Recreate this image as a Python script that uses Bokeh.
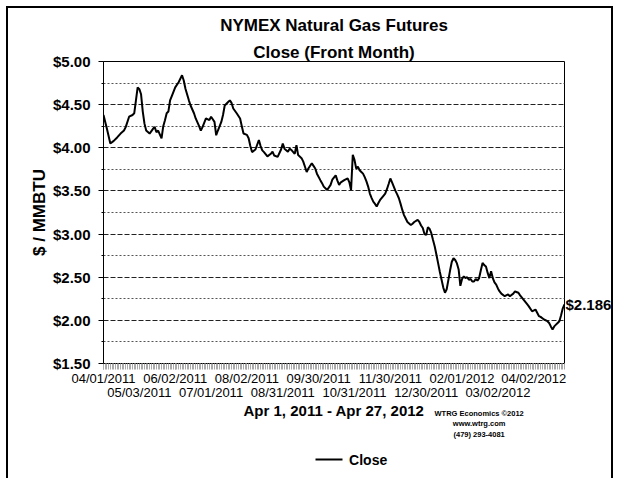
from bokeh.plotting import figure
from bokeh.models import (Range1d, LinearAxis, FixedTicker, Grid, Title, NumeralTickFormatter)
from bokeh.embed import file_html
from bokeh.resources import INLINE

# ---- data (trading-day index since 04/01/2011, front-month close $/MMBtu) ----
day_index = [0, 2, 4, 6, 8, 10, 12, 13, 15, 17, 18, 19, 20, 21, 22, 23, 24, 25, 27, 29,
             30, 31, 32, 34, 35, 36, 37, 38, 39, 40, 42, 44, 46, 47, 48, 50, 51, 53, 54, 56,
             57, 58, 60, 62, 63, 64, 65, 66, 67, 69, 70, 71, 73, 74, 75, 76, 78, 80, 81, 82,
             84, 85, 86, 87, 89, 91, 92, 93, 94, 96, 98, 99, 100, 102, 104, 105, 106, 108, 109, 110,
             112, 113, 114, 116, 117, 118, 119, 120, 122, 123, 124, 125, 127, 128, 129, 131, 133, 134, 136, 137,
             138, 139, 141, 143, 144, 145, 146, 147, 148, 149, 150, 151, 152, 153, 154, 155, 156, 157, 158, 159,
             160, 161, 162, 163, 165, 166, 167, 168, 169, 170, 171, 172, 173, 174, 175, 176, 177, 178, 180, 181,
             182, 184, 185, 186, 187, 188, 189, 190, 191, 192, 193, 194, 195, 196, 197, 198, 199, 200, 201, 202,
             203, 204, 205, 206, 207, 208, 209, 210, 211, 212, 213, 214, 215, 216, 217, 218, 219, 220, 221, 222,
             223, 224, 225, 226, 227, 228, 229, 230, 231, 232, 233, 235, 237, 238, 240, 241, 243, 244, 246, 248,
             249, 251, 253, 255, 256, 258, 260, 261, 262, 263, 264, 265, 266, 267, 268, 269, 270]
close = [4.38, 4.22, 4.05, 4.08, 4.12, 4.165, 4.20, 4.24, 4.36, 4.38, 4.40, 4.55, 4.70, 4.68, 4.62, 4.42, 4.28, 4.20, 4.165, 4.22,
         4.24, 4.18, 4.20, 4.11, 4.25, 4.32, 4.40, 4.42, 4.55, 4.60, 4.70, 4.76, 4.84, 4.78, 4.685, 4.55, 4.49, 4.40, 4.34, 4.25,
         4.20, 4.24, 4.34, 4.32, 4.36, 4.33, 4.30, 4.145, 4.20, 4.30, 4.38, 4.49, 4.53, 4.55, 4.52, 4.455, 4.40, 4.34, 4.25, 4.165,
         4.15, 4.11, 4.02, 3.95, 3.98, 4.09, 4.02, 3.97, 3.95, 3.90, 3.93, 3.955, 3.91, 3.895, 3.98, 4.05, 3.99, 3.955, 3.99, 3.975,
         3.93, 4.03, 3.915, 3.88, 3.84, 3.78, 3.72, 3.76, 3.82, 3.79, 3.76, 3.70, 3.625, 3.59, 3.55, 3.51, 3.57, 3.63, 3.68, 3.62,
         3.57, 3.60, 3.625, 3.645, 3.60, 3.51, 3.92, 3.86, 3.76, 3.78, 3.74, 3.72, 3.70, 3.66, 3.61, 3.55, 3.47, 3.42, 3.375, 3.35,
         3.32, 3.36, 3.395, 3.42, 3.47, 3.52, 3.58, 3.645, 3.60, 3.55, 3.50, 3.46, 3.415, 3.35, 3.28, 3.22, 3.18, 3.14, 3.105, 3.12,
         3.14, 3.165, 3.14, 3.10, 3.07, 3.00, 2.99, 3.08, 3.06, 3.01, 2.93, 2.856, 2.76, 2.66, 2.56, 2.47, 2.38, 2.32, 2.36, 2.47,
         2.58, 2.68, 2.72, 2.70, 2.66, 2.59, 2.40, 2.48, 2.51, 2.49, 2.50, 2.47, 2.48, 2.45, 2.45, 2.48, 2.46, 2.49, 2.58, 2.665,
         2.64, 2.625, 2.55, 2.49, 2.57, 2.49, 2.44, 2.415, 2.37, 2.335, 2.31, 2.28, 2.30, 2.28, 2.31, 2.335, 2.32, 2.29, 2.24, 2.19,
         2.165, 2.105, 2.125, 2.05, 2.04, 2.01, 1.99, 1.97, 1.93, 1.895, 1.93, 1.95, 1.97, 1.99, 2.06, 2.14, 2.186]

tick_day = [0, 21, 42, 63, 84, 105, 126, 147, 168, 189, 210, 231, 252]
tick_label = ["04/01/2011", "05/03/2011", "06/02/2011", "07/01/2011", "08/02/2011", "08/31/2011",
              "09/30/2011", "10/31/2011", "11/30/2011", "12/30/2011", "02/01/2012", "03/02/2012",
              "04/02/2012"]
y_major = [1.5, 2.0, 2.5, 3.0, 3.5, 4.0, 4.5, 5.0]
y_minor = [1.75, 2.25, 2.75, 3.25, 3.75, 4.25, 4.75]
credit_lines = ["WTRG Economics \u00a92012", "www.wtrg.com", "(479) 293-4081"]
series_name = "Close"

FONT = "Liberation Sans"

p = figure(width=607, height=472, output_backend="svg", toolbar_location=None,
           x_axis_type=None, y_axis_type=None,
           x_range=Range1d(0, 270), y_range=Range1d(1.5, 5.0),
           min_border_left=95, min_border_right=51, min_border_top=53, min_border_bottom=117)
p.margin = (6, 0, 0, 6)
p.styles = {"border-left": "2px solid black", "border-top": "2px solid black",
            "border-right": "2px solid black"}
p.outline_line_color = "black"
p.outline_line_width = 1
p.background_fill_color = "white"
p.border_fill_color = None

# titles
t2 = Title(text="Close (Front Month)", align="center", text_font=FONT, text_font_size="17px",
           text_font_style="bold", text_color="black", standoff=0)
t1 = Title(text="NYMEX Natural Gas Futures", align="center", text_font=FONT, text_font_size="17px",
           text_font_style="bold", text_color="black", standoff=11)
p.add_layout(t2, "above")
p.add_layout(t1, "above")

# y axis
yaxis = LinearAxis(ticker=FixedTicker(ticks=y_major, minor_ticks=y_minor),
                   formatter=NumeralTickFormatter(format="$0.00"),
                   axis_label="$ / MMBTU")
yaxis.major_label_text_font = FONT
yaxis.major_label_text_font_size = "15px"
yaxis.major_label_text_font_style = "bold"
yaxis.major_label_text_color = "black"
yaxis.major_label_standoff = 8
yaxis.axis_label_text_font = FONT
yaxis.axis_label_text_font_size = "17px"
yaxis.axis_label_text_font_style = "bold"
yaxis.axis_label_text_color = "black"
yaxis.axis_label_standoff = 1
yaxis.major_tick_out = 5
yaxis.major_tick_in = 0
yaxis.minor_tick_out = 2
yaxis.minor_tick_in = 0
yaxis.axis_line_color = "black"
p.add_layout(yaxis, "left")

# right axis carrying the last close
raxis = LinearAxis(ticker=FixedTicker(ticks=[close[-1]]),
                   formatter=NumeralTickFormatter(format="$0.000"))
raxis.axis_line_color = None
raxis.major_tick_line_color = None
raxis.minor_tick_line_color = None
raxis.major_tick_out = 0
raxis.major_tick_in = 0
raxis.major_label_standoff = 1
raxis.major_label_text_font = FONT
raxis.major_label_text_font_size = "15px"
raxis.major_label_text_font_style = "bold"
raxis.major_label_text_color = "black"
p.add_layout(raxis, "right")

# grid
grid = Grid(dimension=1, ticker=FixedTicker(ticks=y_major, minor_ticks=y_minor))
grid.grid_line_color = "#222222"
grid.grid_line_dash = "5 2"
grid.minor_grid_line_color = "#555555"
grid.minor_grid_line_dash = "2 2"
p.add_layout(grid, "center")

# x axes: two alternating rows of date labels
even_ticks = tick_day[0::2]
odd_ticks = tick_day[1::2]
xaxis1 = LinearAxis(ticker=FixedTicker(ticks=even_ticks, minor_ticks=list(range(0, 271))),
                    major_label_overrides={d: l for d, l in zip(tick_day, tick_label) if d in even_ticks})
xaxis1.axis_line_color = None
xaxis1.major_tick_out = 6
xaxis1.major_tick_in = 0
xaxis1.major_tick_line_color = "#999999"
xaxis1.minor_tick_out = 6
xaxis1.minor_tick_in = 0
xaxis1.minor_tick_line_color = "#aaaaaa"
xaxis1.major_label_standoff = 1
xaxis1.major_label_text_font = FONT
xaxis1.major_label_text_font_size = "13px"
xaxis1.major_label_text_color = "black"
p.add_layout(xaxis1, "below")

xaxis2 = LinearAxis(ticker=FixedTicker(ticks=odd_ticks),
                    major_label_overrides={d: l for d, l in zip(tick_day, tick_label) if d in odd_ticks},
                    axis_label="Apr 1, 2011 - Apr 27, 2012")
xaxis2.axis_line_color = None
xaxis2.major_tick_line_color = None
xaxis2.major_tick_out = 0
xaxis2.major_tick_in = 0
xaxis2.minor_tick_line_color = None
xaxis2.major_label_standoff = -4
xaxis2.major_label_text_font = FONT
xaxis2.major_label_text_font_size = "13px"
xaxis2.major_label_text_color = "black"
xaxis2.axis_label_text_font = FONT
xaxis2.axis_label_text_font_size = "15px"
xaxis2.axis_label_text_font_style = "bold"
xaxis2.axis_label_text_color = "black"
xaxis2.axis_label_standoff = -1
p.add_layout(xaxis2, "below")

# credits block (label-only axis under the date rows); its blank axis title only adds space
credit_pos = 220
xaxis3 = LinearAxis(ticker=FixedTicker(ticks=[credit_pos]),
                    major_label_overrides={credit_pos: "\n".join(credit_lines)},
                    axis_label="\u00a0")
xaxis3.axis_line_color = None
xaxis3.major_tick_line_color = None
xaxis3.minor_tick_line_color = None
xaxis3.major_tick_out = 0
xaxis3.major_tick_in = 0
xaxis3.major_label_standoff = -13
xaxis3.major_label_text_font = FONT
xaxis3.major_label_text_font_size = "7.5px"
xaxis3.major_label_text_font_style = "bold"
xaxis3.major_label_text_color = "black"
xaxis3.major_label_text_line_height = 1.2
xaxis3.axis_label_text_font_size = "8px"
xaxis3.axis_label_standoff = 5
p.add_layout(xaxis3, "below")

# legend key: a short black stroke (bounded axis line) followed by the series name
key_axis = LinearAxis(ticker=FixedTicker(ticks=[155]), bounds=(124, 140),
                      major_label_overrides={155: series_name})
key_axis.axis_line_color = "black"
key_axis.axis_line_width = 2
key_axis.major_tick_line_color = None
key_axis.minor_tick_line_color = None
key_axis.major_tick_out = 0
key_axis.major_tick_in = 0
key_axis.major_label_standoff = -8
key_axis.major_label_text_font = FONT
key_axis.major_label_text_font_size = "14px"
key_axis.major_label_text_font_style = "bold"
key_axis.major_label_text_color = "black"
p.add_layout(key_axis, "below")

# the series
p.line(day_index, close, line_color="black", line_width=2)

open("out.html", "w").write(file_html(p, INLINE))
